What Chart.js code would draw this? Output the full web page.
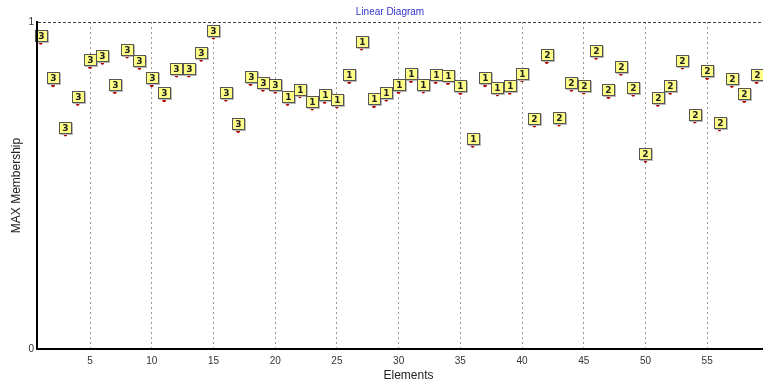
<!DOCTYPE html>
<html>
<head>
<meta charset="utf-8">
<script src="https://cdn.jsdelivr.net/npm/chart.js@4/dist/chart.umd.min.js"></script>
<style>
  body { margin: 0; background: #fff; overflow: hidden; }
  #wrap { width: 763px; height: 385px; overflow: hidden; }
</style>
</head>
<body>
<div id="wrap"><canvas id="diagram" width="780" height="385"></canvas></div>
<script>
// element numbers along the x axis
const elements = [1, 2, 3, 4, 5, 6, 7, 8, 9, 10,
                  11, 12, 13, 14, 15, 16, 17, 18, 19, 20,
                  21, 22, 23, 24, 25, 26, 27, 28, 29, 30,
                  31, 32, 33, 34, 35, 36, 37, 38, 39, 40,
                  41, 42, 43, 44, 45, 46, 47, 48, 49, 50,
                  51, 52, 53, 54, 55, 56, 57, 58, 59, 60];

// max membership value per element
const membership = [0.936, 0.806, 0.655, 0.749, 0.862, 0.875, 0.785, 0.894, 0.859, 0.806,
                    0.760, 0.836, 0.836, 0.884, 0.952, 0.762, 0.666, 0.810, 0.792, 0.786,
                    0.749, 0.772, 0.735, 0.755, 0.741, 0.816, 0.918, 0.742, 0.762, 0.785,
                    0.819, 0.787, 0.816, 0.813, 0.782, 0.621, 0.806, 0.778, 0.783, 0.821,
                    0.683, 0.877, 0.686, 0.792, 0.784, 0.890, 0.770, 0.841, 0.777, 0.575,
                    0.746, 0.783, 0.860, 0.695, 0.828, 0.671, 0.804, 0.758, 0.816, 0.862];

// class the element belongs to (shown in the yellow box)
const classes = [3, 3, 3, 3, 3, 3, 3, 3, 3, 3,
                 3, 3, 3, 3, 3, 3, 3, 3, 3, 3,
                 1, 1, 1, 1, 1, 1, 1, 1, 1, 1,
                 1, 1, 1, 1, 1, 1, 1, 1, 1, 1,
                 2, 2, 2, 2, 2, 2, 2, 2, 2, 2,
                 2, 2, 2, 2, 2, 2, 2, 2, 2, 2];

const xTicks = [5, 10, 15, 20, 25, 30, 35, 40, 45, 50, 55];
const yTicks = [0, 1];

const points = elements.map((e, i) => ({ x: e, y: membership[i] }));

// yellow class boxes sitting on top of each point
const boxLabels = {
  id: 'boxLabels',
  afterDatasetsDraw(chart) {
    const ctx = chart.ctx;
    const meta = chart.getDatasetMeta(0);
    const w = 13, h = 12;
    ctx.save();
    ctx.font = 'bold 9px "DejaVu Sans"';
    ctx.textAlign = 'center';
    ctx.textBaseline = 'middle';
    meta.data.forEach((pt, i) => {
      const x = Math.round(pt.x);
      const y = Math.round(pt.y);
      const left = x - 6;
      const top = y - 1 - h;
      ctx.fillStyle = '#b8b8b8';
      ctx.fillRect(left + 1, top + 1, w, h);
      ctx.fillStyle = '#ffff88';
      ctx.fillRect(left, top, w, h);
      ctx.strokeStyle = '#555';
      ctx.lineWidth = 1;
      ctx.strokeRect(left + 0.5, top + 0.5, w - 1, h - 1);
      ctx.fillStyle = '#222';
      ctx.fillText(String(classes[i]), left + w / 2, top + h / 2 + 0.5);
    });
    ctx.restore();
  }
};

const tickFont = { family: 'Liberation Sans', size: 10 };
const titleFont = { family: 'Liberation Sans', size: 12 };

new Chart(document.getElementById('diagram'), {
  type: 'scatter',
  data: {
    datasets: [{
      data: points,
      pointRadius: 1.8,
      pointHoverRadius: 1.8,
      pointBackgroundColor: '#b00000',
      pointBorderWidth: 0,
      clip: false
    }]
  },
  options: {
    responsive: false,
    animation: false,
    events: [],
    layout: { autoPadding: false, padding: 0 },
    plugins: {
      legend: { display: false },
      tooltip: { enabled: false },
      title: {
        display: true,
        text: 'Linear Diagram',
        color: '#3333cc',
        font: { family: 'Liberation Sans', size: 10, weight: 'normal' },
        padding: { top: 6, bottom: 4 }
      }
    },
    scales: {
      x: {
        type: 'linear',
        min: 0.7,
        max: 60.9,
        afterBuildTicks: scale => { scale.ticks = xTicks.map(v => ({ value: v })); },
        afterFit: scale => { scale.height = 36; },
        grid: { color: '#9a9a9a', lineWidth: 1, drawTicks: false },
        border: { display: true, color: '#000', width: 2, dash: [2, 3], z: 1 },
        ticks: { color: '#333', font: tickFont, padding: 6, maxRotation: 0 },
        title: {
          display: true,
          text: 'Elements',
          color: '#222',
          font: titleFont,
          padding: { top: 0, bottom: 2 }
        }
      },
      y: {
        min: 0,
        max: 1,
        afterBuildTicks: scale => { scale.ticks = yTicks.map(v => ({ value: v })); },
        afterFit: scale => { scale.width = 37; },
        grid: { color: '#444', lineWidth: 1, drawTicks: false },
        border: { display: true, color: '#000', width: 2, dash: [3, 2], z: 1 },
        ticks: { color: '#333', font: tickFont, padding: 3 },
        title: {
          display: true,
          text: 'MAX Membership',
          color: '#222',
          font: titleFont,
          padding: { top: 9, bottom: 0 }
        }
      }
    }
  },
  plugins: [boxLabels]
});
</script>
</body>
</html>
